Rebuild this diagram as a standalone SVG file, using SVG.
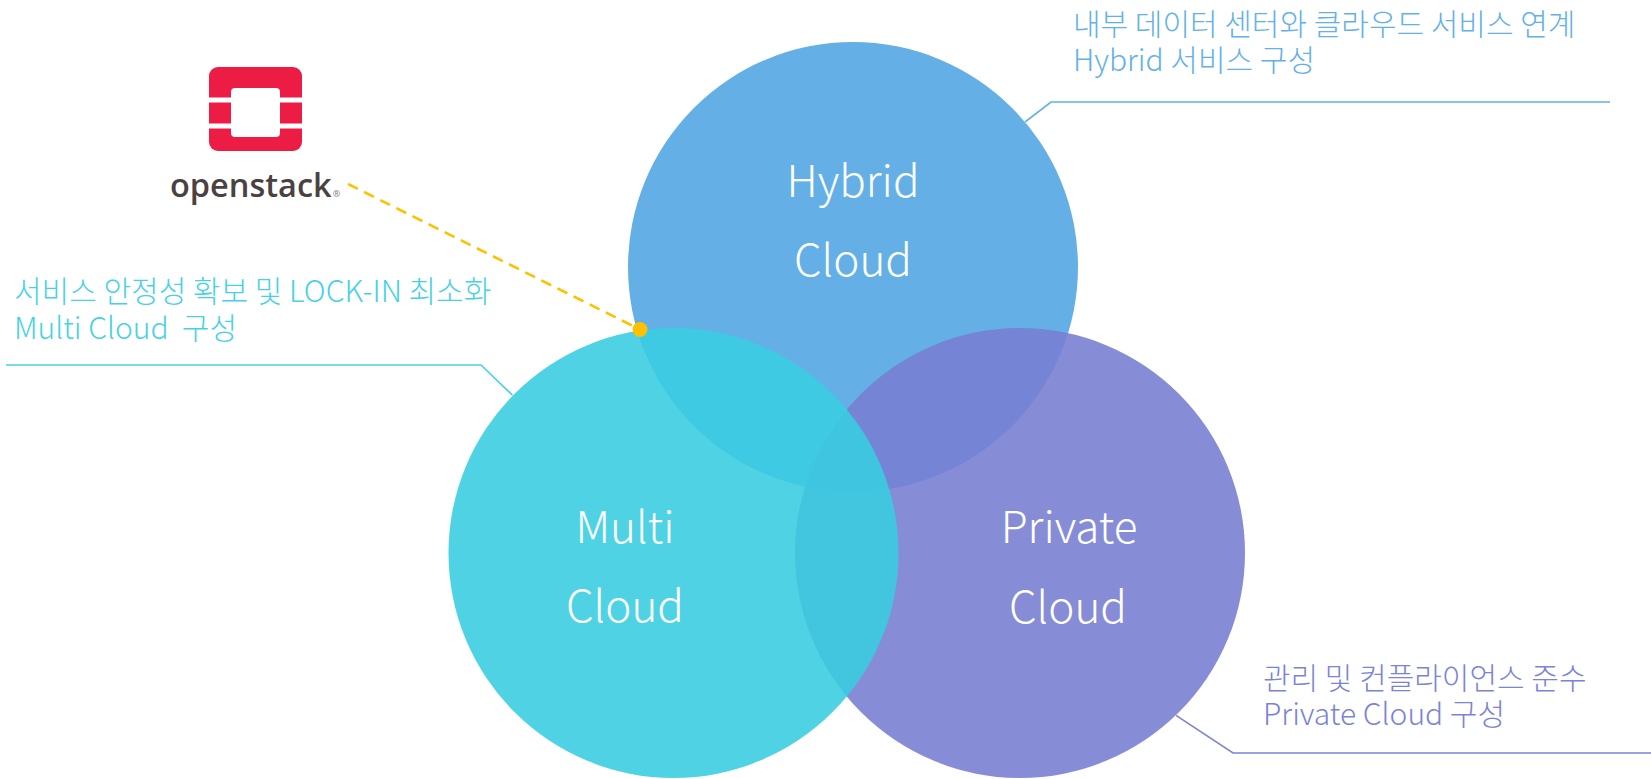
<svg xmlns="http://www.w3.org/2000/svg" width="1651" height="779" viewBox="0 0 1651 779">
  <style>
    .circle-label { font-family: "Noto Sans CJK KR", "Noto Sans", sans-serif; font-weight: 300; font-size: 44px; fill: #ffffff; text-anchor: middle; }
    .note { font-family: "Noto Sans CJK KR", "Noto Sans", sans-serif; font-weight: 300; font-size: 30px; }
    .leader { fill: none; stroke-width: 1.6; }
  </style>
  <rect width="1651" height="779" fill="#ffffff"/>

  <g id="logo-openstack">
    <rect x="209" y="67" width="93" height="84" rx="9" fill="#EC1C45"/>
    <rect x="209" y="97.5" width="93" height="5" fill="#ffffff"/>
    <rect x="209" y="123.5" width="93" height="5" fill="#ffffff"/>
    <rect x="231" y="88" width="49" height="49" rx="4" fill="#ffffff"/>
    <text x="170" y="197" font-family="'Open Sans', 'Noto Sans', sans-serif" font-weight="600" font-size="32.5" fill="#4A4242">openstack<tspan font-size="9" dx="1" fill="#888888">®</tspan></text>
  </g>

  <g id="node-hybrid">
    <circle cx="853" cy="267" r="225" fill="#64B0E6"/>
  </g>
  <g id="node-private">
    <circle cx="1020" cy="553" r="225" fill="rgb(119,127,209)" fill-opacity="0.89"/>
  </g>
  <g id="node-multi">
    <circle cx="673.5" cy="553" r="225" fill="rgb(57,206,225)" fill-opacity="0.89"/>
  </g>

  <g id="node-labels">
    <text class="circle-label" x="853" y="197">Hybrid<tspan x="853" dy="79">Cloud</tspan></text>
    <text class="circle-label" x="625" y="543">Multi<tspan x="625" dy="79">Cloud</tspan></text>
    <text class="circle-label" x="1069" y="543">Private<tspan x="1068" dy="80">Cloud</tspan></text>
  </g>

  <g id="connectors">
    <polyline class="leader" stroke="#63B1E8" points="1025,122 1051,102 1610,102"/>
    <polyline class="leader" stroke="#48D1E5" points="6,365 481,365 512.5,395.2"/>
    <polyline class="leader" stroke="#7B83D6" points="1176,715.3 1233,753 1651,753"/>
    <line x1="348" y1="184" x2="633" y2="326" stroke="#FFC000" stroke-width="2.6" stroke-dasharray="11 7"/>
    <circle cx="640" cy="329.5" r="7.5" fill="#FFC000"/>
  </g>

  <g id="note-hybrid" class="note" fill="#63B1E8">
    <text x="1073" y="35">내부 데이터 센터와 클라우드 서비스 연계<tspan x="1073" dy="36">Hybrid 서비스 구성</tspan></text>
  </g>
  <g id="note-multi" class="note" fill="#48D1E5">
    <text x="14" y="302" xml:space="preserve">서비스 안정성 확보 및 LOCK-IN 최소화<tspan x="14" dy="37">Multi Cloud  구성</tspan></text>
  </g>
  <g id="note-private" class="note" fill="#7B83D6">
    <text x="1263" y="689">관리 및 컨플라이언스 준수<tspan x="1263" dy="36">Private Cloud 구성</tspan></text>
  </g>
</svg>
